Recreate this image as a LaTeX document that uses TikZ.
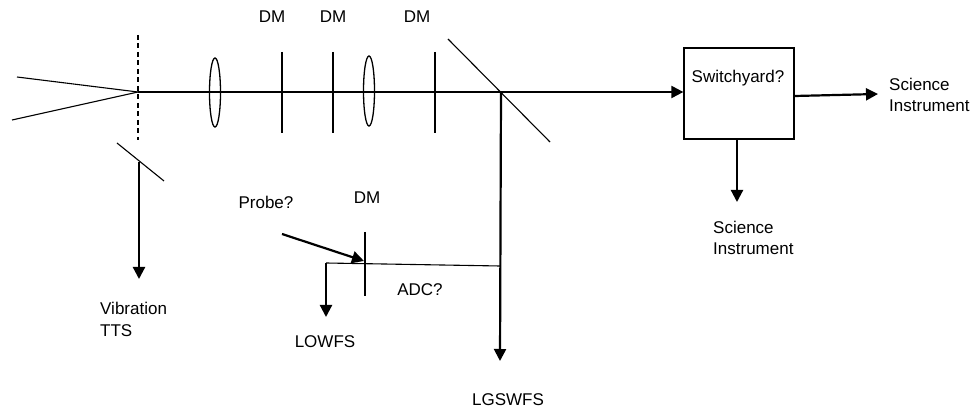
\documentclass[tikz,border=0pt]{standalone}
\usepackage{fontspec}
\setmainfont{Liberation Sans}
\usetikzlibrary{arrows.meta,calc,shapes.geometric}
\begin{document}
\begin{tikzpicture}[x=1pt,y=-1pt,
  beam/.style={line width=2.2pt},
  thinl/.style={line width=1.1pt},
  arr/.style={beam,-{Triangle[length=12pt,width=12pt]}},
  lbl/.style={font=\fontsize{17}{21.5}\selectfont,inner sep=0pt,align=left},
  lens/.style={draw,ellipse,line width=1.3pt,minimum width=11pt,inner sep=0pt},
  boxs/.style={draw,line width=1.3pt,minimum width=110pt,minimum height=91pt,inner sep=0pt}]
\useasboundingbox (0,0) rectangle (975,411);
% coordinates
\coordinate (f) at (138,92);
\coordinate (inA) at (17,77);
\coordinate (inB) at (12,120);
\coordinate (bs) at (501,92);
\node[boxs] (box) at (739,93.5) {};
\node[lbl] (sw) at (738,78) {Switchyard?};
% incoming rays
\draw[thinl] (inA) -- (f);
\draw[thinl] (inB) -- (f);
% dashed focal plane
\coordinate (dT) at (138,35);
\coordinate (dB) at (138,140);
\draw[beam,dash pattern=on 5pt off 3.5pt] (dT) -- (dB);
% main beam
\draw[arr] (f) -- (f -| box.west);
% lenses
\node[lens,minimum height=69pt] (l1) at (215,92.5) {};
\node[lens,minimum height=70pt] (l2) at (369,91) {};
% DMs
\foreach \n/\x in {d1/282,d2/333,d3/435}{
  \coordinate (\n t) at (\x,52);
  \coordinate (\n b) at (\x,133);
  \draw[thinl] (\n t) -- (\n b);
}
\node[lbl] (dm1) at (272,17) {DM};
\node[lbl] (dm2) at (333,17) {DM};
\node[lbl] (dm3) at (417,17) {DM};
% beamsplitter
\coordinate (bsA) at (448,39);
\coordinate (bsB) at (550,142);
\draw[thinl] (bsA) -- (bsB);
% outputs from switchyard
\coordinate (siR) at (878,94);
\draw[arr] (box.east |- 0,96) -- (siR);
\node[lbl,anchor=west] (si1) at (889,95) {Science\\Instrument};
\coordinate (siD) at (737,202);
\draw[arr] (box.south -| siD) -- (siD);
\node[lbl,anchor=west] (si2) at (713,238) {Science\\Instrument};
% LGSWFS path
\coordinate (lgs) at (500,361);
\coordinate (adcR) at (500,266);
\draw[arr] (bs) -- (lgs);
\node[lbl] (lgsl) at (508,400) {LGSWFS};
% ADC / LOWFS branch
\coordinate (adcL) at (326,263);
\coordinate (low) at (326,317);
\draw[thinl] (adcR) -- (adcL);
\draw[arr] (adcL) -- (low);
\node[lbl] (lowl) at (325,342) {LOWFS};
\node[lbl] (adc) at (420,290) {ADC?};
% small DM
\coordinate (sdT) at (365,232);
\coordinate (sdB) at (365,296);
\draw[thinl] (sdT) -- (sdB);
\node[lbl] (sdm) at (367,198) {DM};
% probe
\coordinate (pr0) at (282,234);
\coordinate (pr1) at (364,261);
\draw[arr] (pr0) -- (pr1);
\node[lbl] (prl) at (266,202) {Probe?};
% vibration pick-off
\coordinate (vmA) at (117,143);
\coordinate (vmB) at (164,181);
\draw[thinl] (vmA) -- (vmB);
\coordinate (vm) at (139,162);
\coordinate (vib) at (139,279);
\draw[arr] (vm) -- (vib);
\node[lbl,anchor=west] (vibl) at (100,319.5) {Vibration\\TTS};
\end{tikzpicture}
\end{document}
